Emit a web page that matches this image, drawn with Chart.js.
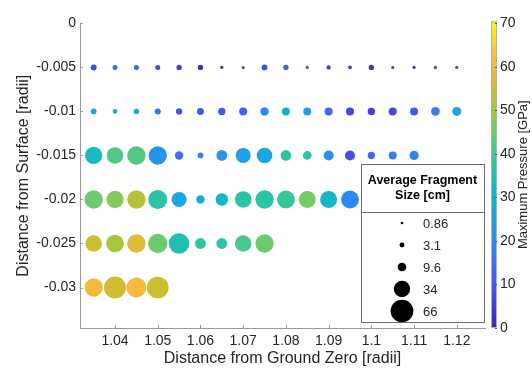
<!DOCTYPE html>
<html lang="en">
<head>
    <meta charset="UTF-8">
    <title>Average Fragment Size</title>
    <script src="https://cdn.jsdelivr.net/npm/chart.js"></script>
    <style>
        html, body { margin: 0; padding: 0; background: #fff; }
    </style>
</head>
<body>
    <canvas id="grafico" width="532" height="368"></canvas>

    <script>
        // Positions along the ground (x) and below the surface (y)
        const xPositions = [1.035, 1.04, 1.045, 1.05, 1.055, 1.06, 1.065, 1.07, 1.075,
                            1.08, 1.085, 1.09, 1.095, 1.1, 1.105, 1.11, 1.115, 1.12];
        const depths = [-0.005, -0.01, -0.015, -0.02, -0.025, -0.03];

        // Average fragment size [cm], one array per depth
        const size005 = [4.6, 3.2, 3.2, 3.2, 3.6, 3.6, 1.4, 1.2, 4.1, 3.6, 1.4, 2.4, 1.7, 3.6, 1.2, 1.4, 1.4, 1.4];
        const size010 = [4.1, 2.8, 3.6, 4.6, 5.1, 6.2, 6.9, 8.2, 8.9, 8.2, 8.2, 8.2, 8.2, 6.9, 8.2, 8.2, 9.6, 10.3];
        const size015 = [38, 35, 43, 43, 9, 4.1, 15, 29, 31, 14.5, 9.6, 12.8, 12.8, 6.9, 8.2, 11];
        const size020 = [43, 38, 43, 46, 29, 9, 20, 35, 43, 41, 37, 37, 41];
        const size025 = [35, 40, 43, 48, 54, 15, 15, 35, 43];
        const size030 = [43, 62, 51, 60];

        // Maximum pressure [GPa], same layout
        const press005 = [8, 14, 12, 8, 6, 3, 3, 5, 8, 11, 9, 6, 5, 3, 5, 5, 7, 8];
        const press010 = [26, 31, 28, 14, 9, 10, 10, 12, 19, 30, 25, 13, 7, 6, 7, 10, 17, 26];
        const press015 = [33, 42, 42, 22, 14, 17, 22, 25, 27, 37, 38, 22, 9, 13, 17, 19];
        const press020 = [45, 47, 52, 37, 27, 29, 32, 37, 37, 39, 46, 32, 19];
        const press025 = [54, 50, 57, 45, 35, 38, 37, 41, 45];
        const press030 = [60, 55, 60, 54];

        const sizesByDepth = [size005, size010, size015, size020, size025, size030];
        const pressByDepth = [press005, press010, press015, press020, press025, press030];

        // Tick labels
        const xTicks = [1.04, 1.05, 1.06, 1.07, 1.08, 1.09, 1.1, 1.11, 1.12];
        const xTickLabels = ['1.04', '1.05', '1.06', '1.07', '1.08', '1.09', '1.1', '1.11', '1.12'];
        const yTicks = [-0.03, -0.025, -0.02, -0.015, -0.01, -0.005, 0];
        const yTickLabels = ['-0.03', '-0.025', '-0.02', '-0.015', '-0.01', '-0.005', '0'];
        const cbTicks = [0, 10, 20, 30, 40, 50, 60, 70];
        const cbTickLabels = ['0', '10', '20', '30', '40', '50', '60', '70'];

        // Legend entries
        const legendSizes = [0.86, 3.1, 9.6, 34, 66];
        const legendLabels = ['0.86', '3.1', '9.6', '34', '66'];

        // parula-like colormap stops, pressure -> colour
        const cmap = [
            [0, '#3e26a8'], [5, '#4538d8'], [10, '#4756f2'], [15, '#3d72fa'],
            [20, '#2c8cf2'], [25, '#1fa0e4'], [30, '#0db2d4'], [35, '#1fbfb4'],
            [40, '#3cc894'], [45, '#6ccb6c'], [50, '#a8c53c'], [55, '#d2bc30'],
            [60, '#f6b93e'], [65, '#f8d42e'], [70, '#f9fb15']
        ];
        const pMax = 70;

        function hexRgb(h) {
            return [parseInt(h.slice(1, 3), 16), parseInt(h.slice(3, 5), 16), parseInt(h.slice(5, 7), 16)];
        }
        function colorFor(p) {
            for (let i = 1; i < cmap.length; i++) {
                if (p <= cmap[i][0]) {
                    const a = cmap[i - 1], b = cmap[i];
                    const t = (p - a[0]) / (b[0] - a[0]);
                    const ca = hexRgb(a[1]), cb = hexRgb(b[1]);
                    const c = ca.map((v, k) => Math.round(v + (cb[k] - v) * t));
                    return 'rgb(' + c.join(',') + ')';
                }
            }
            return cmap[cmap.length - 1][1];
        }
        // marker area proportional to fragment size
        function radiusFor(size) {
            return 1.4 * Math.sqrt(size);
        }

        const datasets = depths.map((d, row) => ({
            data: sizesByDepth[row].map((s, i) => ({ x: xPositions[i], y: d, r: radiusFor(s) })),
            backgroundColor: pressByDepth[row].map(colorFor),
            borderWidth: 0,
            yAxisID: 'y'
        }));

        const textColor = '#262626';
        const axisColor = '#9a9a9a';

        // inward ticks, colour bar and size legend
        const decor = {
            id: 'decor',
            afterDraw(chart) {
                const c = chart.ctx;
                const { x, y, cb } = chart.scales;
                const area = chart.chartArea;

                c.save();
                c.strokeStyle = axisColor;
                c.lineWidth = 1;
                x.ticks.forEach(t => {
                    const px = Math.round(x.getPixelForValue(t.value)) + 0.5;
                    c.beginPath(); c.moveTo(px, area.bottom); c.lineTo(px, area.bottom - 3); c.stroke();
                });
                y.ticks.forEach(t => {
                    const py = Math.round(y.getPixelForValue(t.value)) + 0.5;
                    c.beginPath(); c.moveTo(area.left, py); c.lineTo(area.left + 3, py); c.stroke();
                });

                // colour bar
                const top = cb.getPixelForValue(pMax) - 2;
                const bot = cb.getPixelForValue(0);
                const x0 = cb.left + 6, w = 6;
                const g = c.createLinearGradient(0, bot, 0, top);
                cmap.forEach(s => g.addColorStop(s[0] / pMax, s[1]));
                c.fillStyle = g;
                c.fillRect(x0, top, w, bot - top);
                c.strokeStyle = '#b0b0b0';
                c.strokeRect(x0 + 0.5, top + 0.5, w - 1, bot - top - 1);
                c.strokeStyle = '#555';
                cb.ticks.forEach(t => {
                    const py = Math.round(cb.getPixelForValue(t.value)) + 0.5;
                    c.beginPath(); c.moveTo(x0 + w - 2, py); c.lineTo(x0 + w, py); c.stroke();
                });
                c.fillStyle = textColor;
                c.font = "13px 'Liberation Sans', Arial, sans-serif";
                c.textAlign = 'center';
                c.textBaseline = 'middle';
                c.translate(523, (top + bot) / 2);
                c.rotate(-Math.PI / 2);
                c.fillText('Maximum Pressure [GPa]', 0, 0);
                c.restore();

                // size legend
                const bx = 361, by = 164, bw = 123, bh = 158;
                const rowsY = [223, 245, 267, 289, 311];
                c.save();
                c.fillStyle = '#fff';
                c.fillRect(bx, by, bw, bh);
                c.strokeStyle = '#6e6e6e';
                c.lineWidth = 1;
                c.strokeRect(bx + 0.5, by + 0.5, bw, bh);
                c.beginPath(); c.moveTo(bx, 212.5); c.lineTo(bx + bw, 212.5); c.stroke();
                c.fillStyle = '#000';
                c.font = "bold 12.5px 'Liberation Sans', Arial, sans-serif";
                c.textAlign = 'center';
                c.textBaseline = 'middle';
                c.fillText('Average Fragment', bx + bw / 2, 181);
                c.fillText('Size [cm]', bx + bw / 2, 196);
                c.font = "13px 'Liberation Sans', Arial, sans-serif";
                c.textAlign = 'left';
                legendSizes.forEach((s, i) => {
                    c.fillStyle = '#000';
                    c.beginPath();
                    c.arc(402, rowsY[i], radiusFor(s), 0, Math.PI * 2);
                    c.fill();
                    c.fillStyle = textColor;
                    c.fillText(legendLabels[i], 423, rowsY[i] + 1);
                });
                c.restore();
            }
        };

        Chart.defaults.font.family = "'Liberation Sans', Arial, Helvetica, sans-serif";
        Chart.defaults.color = textColor;

        const ctx = document.getElementById('grafico').getContext('2d');
        const grafico = new Chart(ctx, {
            type: 'bubble',
            data: { datasets: datasets },
            options: {
                responsive: false,
                animation: false,
                events: [],
                layout: { padding: { top: 18, left: 0, right: 0, bottom: 0 } },
                plugins: {
                    legend: { display: false },
                    tooltip: { enabled: false }
                },
                scales: {
                    x: {
                        type: 'linear',
                        min: 1.0318,
                        max: 1.1266,
                        grid: { display: false, drawTicks: false },
                        border: { color: axisColor },
                        afterBuildTicks: s => { s.ticks = xTicks.map(v => ({ value: v })); },
                        ticks: {
                            font: { size: 14 },
                            padding: 5,
                            autoSkip: false,
                            maxRotation: 0,
                            callback: (v, i) => xTickLabels[i]
                        },
                        title: {
                            display: true,
                            text: 'Distance from Ground Zero [radii]',
                            font: { size: 16, lineHeight: 1 },
                            padding: { top: 0, bottom: 1 }
                        },
                        afterFit: s => { s.height = 40; }
                    },
                    y: {
                        type: 'linear',
                        min: -0.0346,
                        max: 0,
                        grid: { display: false, drawTicks: false },
                        border: { color: axisColor },
                        afterBuildTicks: s => { s.ticks = yTicks.map(v => ({ value: v })); },
                        ticks: {
                            font: { size: 14 },
                            padding: 4,
                            autoSkip: false,
                            callback: (v, i) => yTickLabels[i]
                        },
                        title: {
                            display: true,
                            text: 'Distance from Surface [radii]',
                            font: { size: 16, lineHeight: 1 },
                            padding: { top: 16, bottom: 0 }
                        },
                        afterFit: s => { s.width = 80; }
                    },
                    cb: {
                        type: 'linear',
                        position: 'right',
                        min: 0,
                        max: pMax,
                        grid: { display: false, drawTicks: false },
                        border: { display: false },
                        afterBuildTicks: s => { s.ticks = cbTicks.map(v => ({ value: v })); },
                        ticks: {
                            font: { size: 14 },
                            padding: 15,
                            autoSkip: false,
                            callback: (v, i) => cbTickLabels[i]
                        },
                        afterFit: s => { s.width = 47; }
                    }
                }
            },
            plugins: [decor]
        });
    </script>
</body>
</html>
